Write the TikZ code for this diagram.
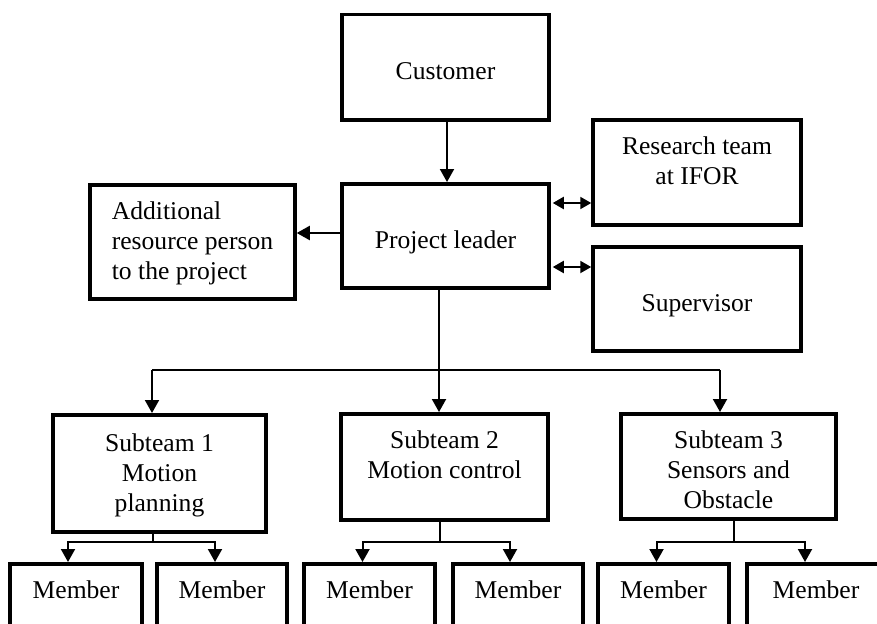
\documentclass[tikz,border=0pt]{standalone}
\usepackage{fontspec}
\setmainfont{Liberation Serif}
\usetikzlibrary{arrows.meta}
\begin{document}
\begin{tikzpicture}[x=1pt,y=-1pt,
  box/.style={draw, line width=3.5pt, anchor=north, inner sep=0pt, align=center,
    text height=35pt, font=\fontsize{25.6}{30}\selectfont},
  conn/.style={line width=2pt},
  arr/.style={conn, -{Triangle[length=13pt,width=14pt]}},
  dbl/.style={conn, {Triangle[length=11pt,width=12pt]}-{Triangle[length=11pt,width=12pt]}}]
\useasboundingbox (0,0) rectangle (877,623);
\clip (0,0) rectangle (877,623);
% top level
\node[box, minimum width=207pt, text height=65pt, text depth=40pt] (cust) at (445.5,13) {Customer};
\node[box, minimum width=207pt, text height=65pt, text depth=39pt] (pl) at (445.5,182) {Project leader};
\node[box, minimum width=208pt, text height=65pt, text depth=40pt] (res) at (697,118) {Research team\\at IFOR};
\node[box, minimum width=208pt, text height=65pt, text depth=39pt] (sup) at (697,245) {Supervisor};
\node[box, minimum width=205pt, text height=95pt, text depth=19pt, align=left] (add) at (192.5,183) {Additional\\resource person\\to the project};
% subteams
\node[box, minimum width=213pt, text height=97pt, text depth=20pt] (st1) at (159.5,413) {Subteam 1\\Motion\\planning};
\node[box, minimum width=207pt, text height=65pt, text depth=41pt] (st2) at (444.5,412) {Subteam 2\\Motion control};
\node[box, minimum width=215pt, text height=95pt, text depth=10pt] (st3) at (728.5,412) {Subteam 3\\Sensors and\\Obstacle};
% members
\node[box, minimum width=132pt, text depth=45pt] (m1) at (76,562) {Member};
\node[box, minimum width=130pt, text depth=45pt] (m2) at (222,562) {Member};
\node[box, minimum width=131pt, text depth=45pt] (m3) at (369.5,562) {Member};
\node[box, minimum width=130pt, text depth=45pt] (m4) at (518,562) {Member};
\node[box, minimum width=131pt, text depth=45pt] (m5) at (663.5,562) {Member};
\node[box, minimum width=138pt, text depth=45pt] (m6) at (816,562) {Member};
% top connectors
\draw[arr] (cust.south -| 447,0) -- (pl.north -| 447,0);
\draw[arr] (pl.west |- 0,233) -- (add.east |- 0,233);
\draw[dbl, shorten <=2pt] (pl.east |- 0,203) -- (res.west |- 0,203);
\draw[dbl, shorten <=2pt] (pl.east |- 0,267) -- (sup.west |- 0,267);
% to subteams
\coordinate (j) at (439,370);
\coordinate (j1) at (152,370);
\coordinate (j3) at (720,370);
\draw[conn] (pl.south -| j) -- (j);
\draw[conn] (j1) -- (j3);
\draw[arr] (j1) -- (st1.north -| j1);
\draw[arr] (j) -- (st2.north -| j);
\draw[arr] (j3) -- (st3.north -| j3);
% to members
\coordinate (a1) at (153,542);
\coordinate (a2) at (440,542);
\coordinate (a3) at (734,542);
\draw[conn] (st1.south -| a1) -- (a1);
\draw[conn] (st2.south -| a2) -- (a2);
\draw[conn] (st3.south -| a3) -- (a3);
\draw[arr] (a1) -| ([xshift=-8pt]m1.north);
\draw[arr] (a1) -| ([xshift=-7pt]m2.north);
\draw[arr] (a2) -| ([xshift=-7pt]m3.north);
\draw[arr] (a2) -| ([xshift=-8pt]m4.north);
\draw[arr] (a3) -| ([xshift=-7pt]m5.north);
\draw[arr] (a3) -| ([xshift=-11pt]m6.north);
\end{tikzpicture}
\end{document}
